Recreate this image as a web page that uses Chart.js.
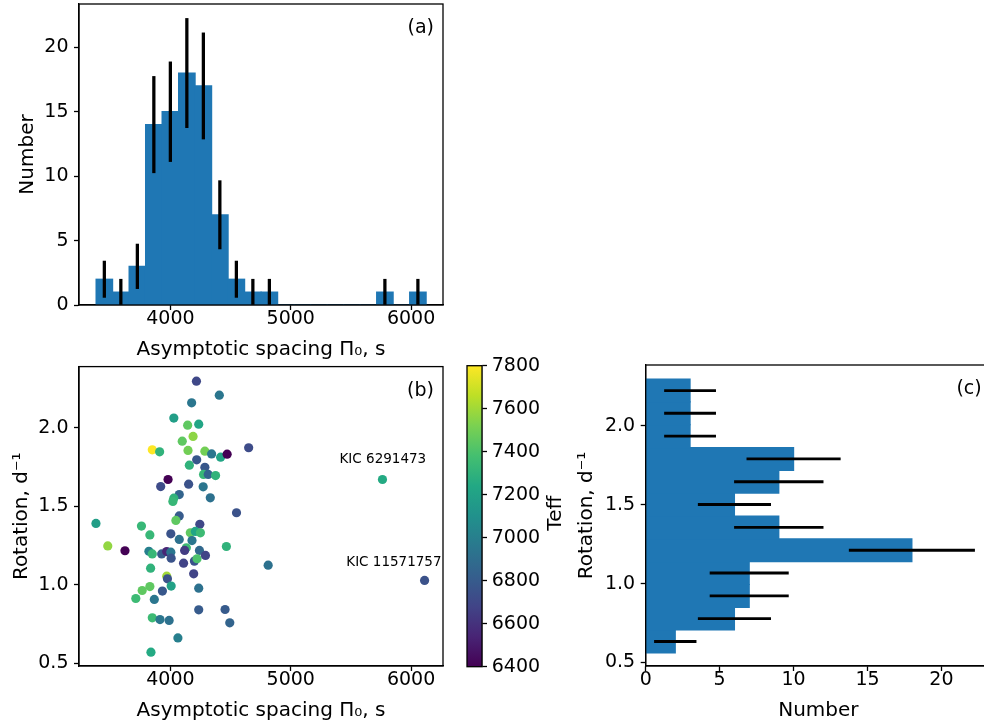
<!DOCTYPE html>
<html>
<head>
<meta charset="utf-8">
<script src="https://cdn.jsdelivr.net/npm/chart.js@4.4.0/dist/chart.umd.min.js"></script>
<style>
  html, body { margin: 0; padding: 0; background: #fff; }
  body { width: 984px; height: 727px; overflow: hidden; position: relative; }
  canvas { position: absolute; }
</style>
</head>
<body>
<canvas id="hist-pi0" width="470" height="362" style="left:0;top:0"></canvas>
<canvas id="scatter" width="460" height="365" style="left:0;top:362px"></canvas>
<canvas id="cbar" width="130" height="382" style="left:460px;top:345px"></canvas>
<canvas id="hist-rot" width="440" height="365" style="left:560px;top:362px"></canvas>
<script>
// (a) histogram of asymptotic spacing, bin centres in s
const pi0Bins = [3450.6, 3587.7, 3724.9, 3862.0, 3999.2, 4136.3, 4273.5, 4410.6, 4547.8, 4684.9,
                 4822.1, 4959.2, 5096.4, 5233.5, 5370.7, 5507.8, 5645.0, 5782.1, 5919.3, 6056.4];
const pi0Counts = [2, 1, 3, 14, 15, 18, 17, 7, 2, 1, 1, 0, 0, 0, 0, 0, 0, 1, 0, 1];
const pi0Err = [1.41, 1, 1.73, 3.74, 3.87, 4.24, 4.12, 2.65, 1.41, 1, 1, 0, 0, 0, 0, 0, 0, 1, 0, 1];

// (c) histogram of rotation, bin centres in d^-1
const rotBins = [0.633, 0.778, 0.922, 1.067, 1.211, 1.356, 1.501, 1.645, 1.790, 1.934, 2.079, 2.223];
const rotCounts = [2, 6, 7, 7, 18, 9, 6, 9, 10, 3, 3, 3];
const rotErr = [1.41, 2.45, 2.65, 2.65, 4.24, 3, 2.45, 3, 3.16, 1.73, 1.73, 1.73];

// (b) individual stars
const starPi0 = [4216, 4406, 4176, 4028, 4143, 4235, 4098, 4188, 3849, 3910,
                 4146, 4286, 4342, 4417, 4471, 4650, 4218, 4157, 4286, 4275,
                 4314, 4375, 3980, 3919, 4151, 4272, 4073, 4028, 4020, 4331,
                 4549, 4073, 4045, 3381, 3759, 4244, 3829, 4003, 4073, 4165,
                 4207, 4249, 4179, 4132, 4465, 3479, 3622, 3821, 3849, 3927,
                 3969, 4003, 4006, 4118, 4109, 4241, 4199, 4221, 4291, 4812,
                 4193, 3835, 3969, 3975, 4006, 3933, 4235, 3829, 3765, 3712,
                 3866, 4235, 4454, 4493, 3849, 3913, 3989, 4062, 3838, 5762, 6112];
const starRot = [2.297, 2.208, 2.159, 2.062, 2.017, 2.023, 1.915, 1.945, 1.860, 1.847,
                 1.856, 1.851, 1.834, 1.813, 1.832, 1.873, 1.796, 1.762, 1.749, 1.703,
                 1.703, 1.696, 1.671, 1.626, 1.641, 1.624, 1.575, 1.552, 1.531, 1.554,
                 1.459, 1.439, 1.410, 1.391, 1.374, 1.386, 1.318, 1.325, 1.289, 1.331,
                 1.340, 1.331, 1.282, 1.236, 1.244, 1.248, 1.217, 1.214, 1.197, 1.197,
                 1.212, 1.208, 1.170, 1.219, 1.138, 1.219, 1.151, 1.166, 1.187, 1.125,
                 1.070, 1.106, 1.055, 1.038, 0.992, 0.960, 0.979, 0.989, 0.964, 0.913,
                 0.907, 0.841, 0.843, 0.758, 0.790, 0.779, 0.773, 0.662, 0.571, 1.671, 1.028];
const starTeff = [6700, 6950, 6950, 7180, 7450, 7220, 7450, 7560, 7800, 7300,
                  7500, 7500, 6950, 7220, 6400, 6720, 6780, 7300, 6780, 7330,
                  6850, 7300, 6400, 6720, 6750, 6950, 6850, 7300, 7330, 6920,
                  6750, 6800, 7450, 7180, 7330, 6700, 7330, 6760, 6920, 7450,
                  7220, 7350, 6950, 7350, 7300, 7570, 6400, 7000, 7330, 6800,
                  6550, 6950, 6760, 6650, 6680, 6870, 6750, 7400, 6680, 6920,
                  6680, 7300, 7600, 6750, 7200, 6780, 6920, 7450, 7450, 7350,
                  6950, 6800, 6800, 6850, 7350, 6950, 6920, 7000, 7250, 7250, 6750];
const starNotes = [
  { text: 'KIC 6291473', x: 5765, y: 1.80 },
  { text: 'KIC 11571757', x: 5857, y: 1.143 }
];
const teffRange = [6400, 7800];

// tick values of each axis
const pi0Ticks = [4000, 5000, 6000];
const countTicksA = [0, 5, 10, 15, 20];
const countTicksC = [0, 5, 10, 15, 20];
const rotTicks = [0.5, 1.0, 1.5, 2.0];
const teffTicks = [6400, 6600, 6800, 7000, 7200, 7400, 7600, 7800];

const FONT = 'DejaVu Sans';
const BLUE = '#1f77b4';
const viridis = ['#440154', '#482475', '#414487', '#355f8d', '#2a788e', '#21918c',
                 '#22a884', '#44bf70', '#7ad151', '#bddf26', '#fde725'];

function hexRgb(h) { return [1, 3, 5].map(i => parseInt(h.slice(i, i + 2), 16)); }
function teffColor(t) {
  const f = Math.max(0, Math.min(1, (t - teffRange[0]) / (teffRange[1] - teffRange[0]))) * (viridis.length - 1);
  const i = Math.min(viridis.length - 2, Math.floor(f)), r = f - i;
  const a = hexRgb(viridis[i]), b = hexRgb(viridis[i + 1]);
  return 'rgb(' + a.map((v, k) => Math.round(v + (b[k] - v) * r)).join(',') + ')';
}

Chart.defaults.font.family = FONT;
Chart.defaults.color = '#000';

// box round the plot area + free text (panel letters, annotations, colorbar label)
const frame = {
  id: 'frame',
  afterDraw(chart, args, opts) {
    const { ctx, chartArea: a } = chart;
    ctx.save();
    ctx.strokeStyle = '#000';
    ctx.lineWidth = 1.3;
    ctx.strokeRect(a.left, a.top, a.right - a.left, a.bottom - a.top);
    (opts.texts || []).forEach(t => {
      let x, y;
      if (t.data) {
        x = chart.scales.x.getPixelForValue(t.x);
        y = chart.scales.y.getPixelForValue(t.y);
      } else {
        x = a[t.edgeX] + t.dx;
        y = (t.edgeY === 'middle' ? (a.top + a.bottom) / 2 : a[t.edgeY]) + t.dy;
      }
      ctx.font = (t.size || 19) + 'px "' + FONT + '"';
      ctx.fillStyle = '#000';
      ctx.textAlign = t.align || 'center';
      ctx.textBaseline = 'middle';
      ctx.translate(x, y);
      if (t.rotate) ctx.rotate(-Math.PI / 2);
      ctx.fillText(t.text, 0, 0);
      ctx.setTransform(1, 0, 0, 1, 0, 0);
    });
    ctx.restore();
  }
};

function axis(o) {
  return {
    type: 'linear', min: o.min, max: o.max, position: o.position, offset: false,
    grid: { display: true, drawOnChartArea: false, offset: false, tickLength: 5, tickColor: '#000', tickWidth: 1.3 },
    border: { display: true, color: '#000', width: 1.3 },
    ticks: {
      color: '#000', padding: o.pad, autoSkip: false, maxRotation: 0,
      font: { family: FONT, size: 19, lineHeight: 1 },
      callback: o.fmt || (v => String(v))
    },
    title: o.title
      ? { display: true, text: o.title, color: '#000', font: { family: FONT, size: 20, lineHeight: 1.2 }, padding: o.titlePad }
      : { display: false },
    afterBuildTicks: s => { s.ticks = o.ticks.map(v => ({ value: v })); },
    afterFit: s => {
      if (s.isHorizontal()) s.height = o.size; else s.width = o.size;
      s.paddingTop = s.paddingBottom = s.paddingLeft = s.paddingRight = 0;
    }
  };
}

const base = { responsive: false, animation: false, events: [] };
const noLegend = { legend: { display: false }, tooltip: { enabled: false } };

new Chart(document.getElementById('hist-pi0'), {
  type: 'bar',
  data: { datasets: [
    { data: pi0Bins.map((x, i) => ({ x, y: [pi0Counts[i] - pi0Err[i], pi0Counts[i] + pi0Err[i]] })).filter((d, i) => pi0Counts[i] > 0),
      backgroundColor: '#000', barThickness: 2.6, grouped: false, order: 0 },
    { data: pi0Bins.map((x, i) => ({ x, y: pi0Counts[i] })),
      backgroundColor: BLUE, borderWidth: 0, inflateAmount: 0.6, barPercentage: 1, categoryPercentage: 1, grouped: false, order: 1 }
  ] },
  options: { ...base,
    layout: { padding: { left: 0, top: 4, right: 27, bottom: 0 } },
    plugins: { ...noLegend, frame: { texts: [{ text: '(a)', edgeX: 'right', dx: -9, edgeY: 'top', dy: 24.5, align: 'right' }] } },
    scales: {
      x: axis({ min: 3240, max: 6265, ticks: pi0Ticks, size: 57, pad: 0, title: 'Asymptotic spacing Π₀, s', titlePad: { top: 0, bottom: 0 } }),
      y: axis({ min: 0, max: 23.36, ticks: countTicksA, size: 79, pad: 5.5, title: 'Number', titlePad: { top: 16, bottom: 0 } })
    }
  },
  plugins: [frame]
});

new Chart(document.getElementById('scatter'), {
  type: 'scatter',
  data: { datasets: [{
    data: starPi0.map((x, i) => ({ x, y: starRot[i] })),
    pointBackgroundColor: starTeff.map(teffColor), pointBorderWidth: 0, pointRadius: 4.6
  }] },
  options: { ...base,
    layout: { padding: { left: 0, top: 3, right: 17, bottom: 0 } },
    plugins: { ...noLegend, frame: { texts: [
      { text: '(b)', edgeX: 'right', dx: -9, edgeY: 'top', dy: 24.5, align: 'right' },
      ...starNotes.map(n => ({ ...n, data: true, size: 13.5 }))
    ] } },
    scales: {
      x: axis({ min: 3240, max: 6265, ticks: pi0Ticks, size: 61, pad: 0, title: 'Asymptotic spacing Π₀, s', titlePad: { top: 0, bottom: 4 } }),
      y: axis({ min: 0.483, max: 2.39, ticks: rotTicks, size: 79, pad: 5.5, fmt: v => v.toFixed(1), title: 'Rotation, d⁻¹', titlePad: { top: 10, bottom: 0 } })
    }
  },
  plugins: [frame]
});

new Chart(document.getElementById('cbar'), {
  type: 'bar',
  data: { labels: ['Teff'], datasets: [{
    data: [teffRange],
    backgroundColor: ctx => {
      const a = ctx.chart.chartArea;
      if (!a) return null;
      const g = ctx.chart.ctx.createLinearGradient(0, a.bottom, 0, a.top);
      viridis.forEach((c, i) => g.addColorStop(i / (viridis.length - 1), c));
      return g;
    },
    borderWidth: 0, barPercentage: 1, categoryPercentage: 1
  }] },
  options: { ...base,
    layout: { padding: { left: 7, top: 20.7, right: 0, bottom: 60.3 } },
    plugins: { ...noLegend, frame: { texts: [{ text: 'Teff', edgeX: 'right', dx: 73.5, edgeY: 'middle', dy: -3, rotate: true, size: 20 }] } },
    scales: {
      x: { display: false },
      y: axis({ min: teffRange[0], max: teffRange[1], ticks: teffTicks, size: 108, pad: 4.7, position: 'right' })
    }
  },
  plugins: [frame]
});

new Chart(document.getElementById('hist-rot'), {
  type: 'bar',
  data: { datasets: [
    { data: rotBins.map((y, i) => ({ y, x: [rotCounts[i] - rotErr[i], rotCounts[i] + rotErr[i]] })),
      backgroundColor: '#000', barThickness: 2.2, grouped: false, order: 0 },
    { data: rotBins.map((y, i) => ({ y, x: rotCounts[i] })),
      backgroundColor: BLUE, borderWidth: 0, inflateAmount: 0.6, barPercentage: 1, categoryPercentage: 1, grouped: false, order: 1 }
  ] },
  options: { ...base, indexAxis: 'y',
    layout: { padding: { left: 0, top: 3, right: 9, bottom: 0 } },
    plugins: { ...noLegend, frame: { texts: [{ text: '(c)', edgeX: 'right', dx: -9.3, edgeY: 'top', dy: 24.5, align: 'right' }] } },
    scales: {
      x: axis({ min: 0, max: 23.35, ticks: countTicksC, size: 61, pad: 0, title: 'Number', titlePad: { top: 0, bottom: 4 } }),
      y: axis({ min: 0.478, max: 2.385, ticks: rotTicks, size: 85.7, pad: 5.5, fmt: v => v.toFixed(1), title: 'Rotation, d⁻¹', titlePad: { top: 15, bottom: 0 } })
    }
  },
  plugins: [frame]
});
</script>
</body>
</html>
